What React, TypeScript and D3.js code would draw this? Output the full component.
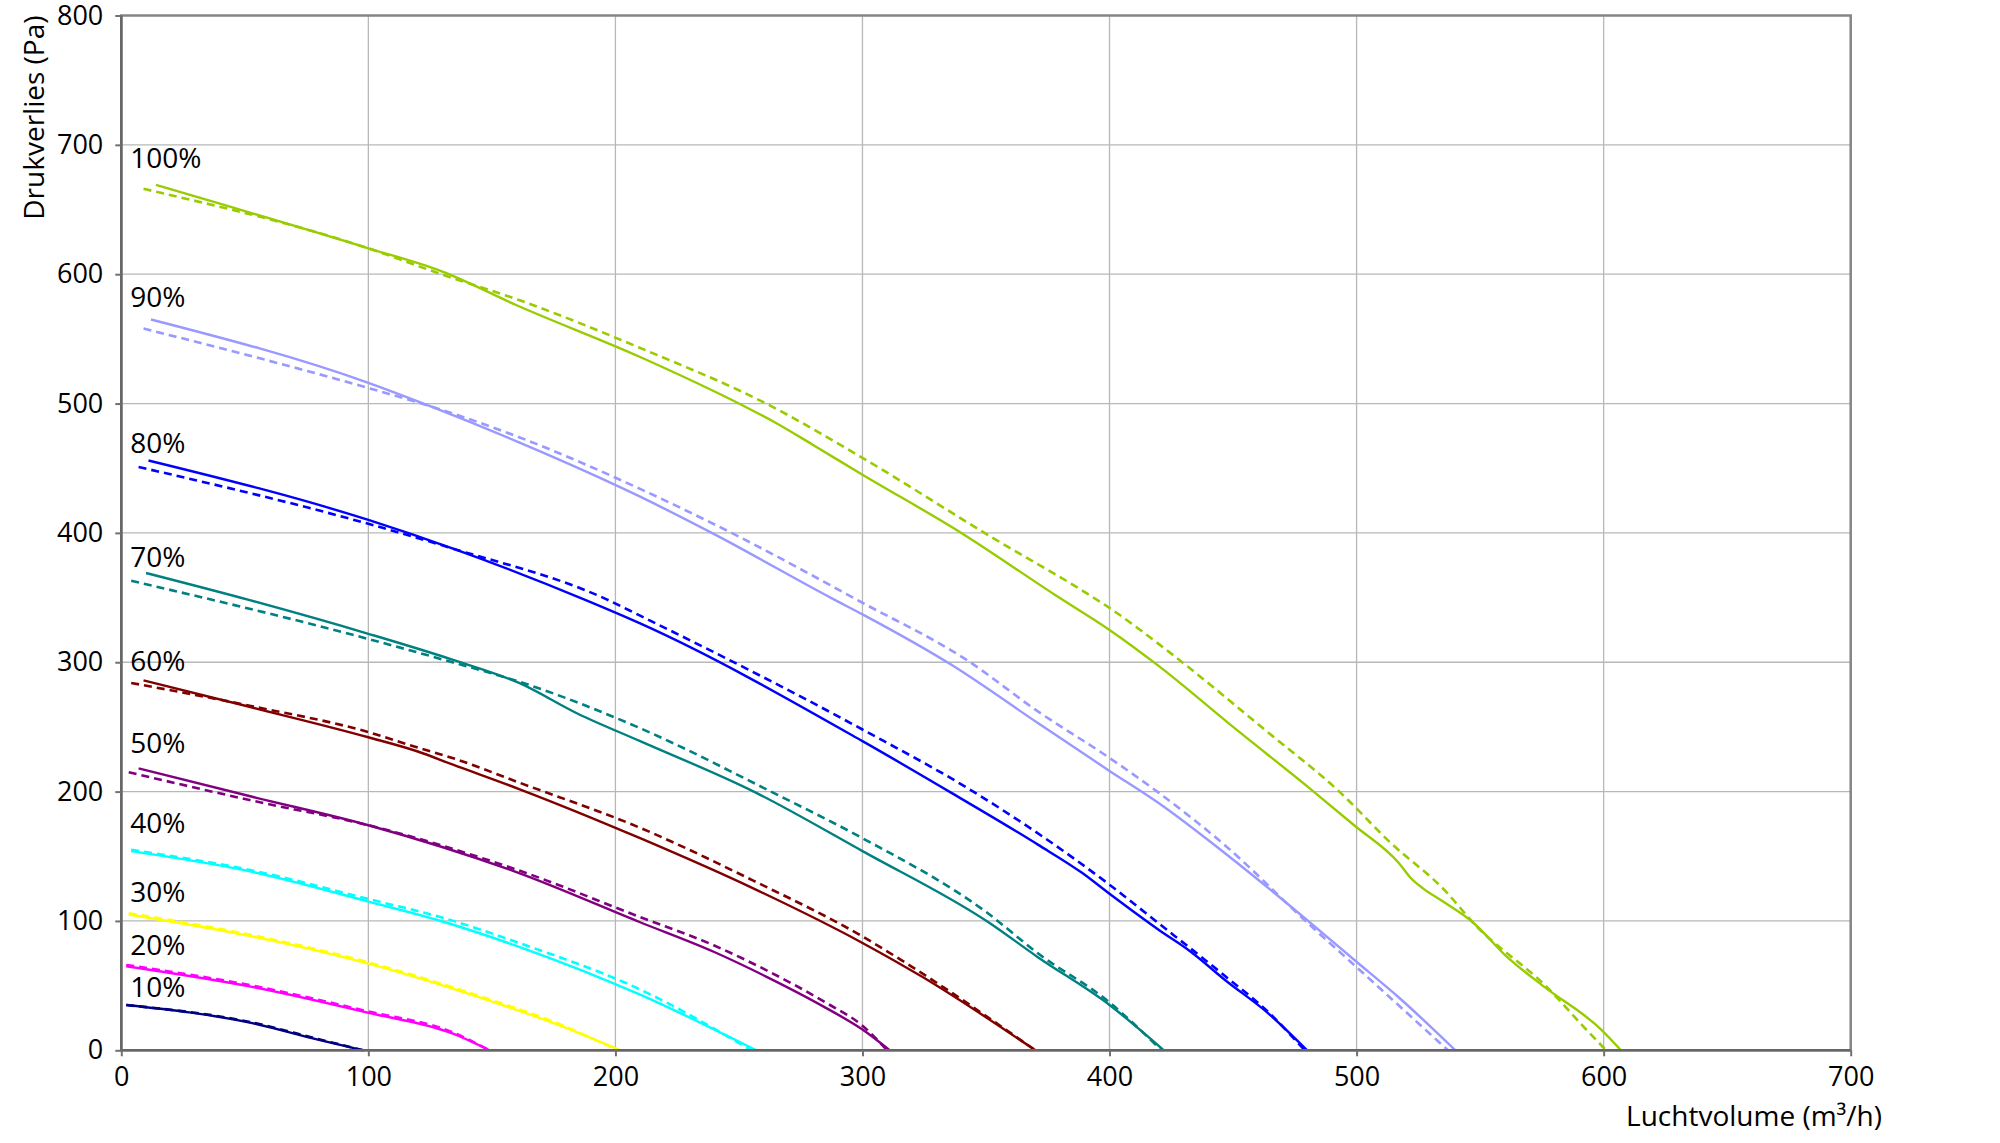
import React, { useEffect, useRef } from "react";
import * as d3 from "d3";

// fan speed settings, top curve first
const speeds = ["100%", "90%", "80%", "70%", "60%", "50%", "40%", "30%", "20%", "10%"];
const colors = ["#99cc00", "#9999ff", "#0000ff", "#008080", "#800000", "#800080", "#00ffff", "#ffff00", "#ff00ff", "#000080"];
// where the speed label sits (Pa)
const labelPa = [682, 575, 462, 374, 293, 230, 168, 115, 74, 41];

const xTicks = [0, 100, 200, 300, 400, 500, 600, 700];
const yTicks = [0, 100, 200, 300, 400, 500, 600, 700, 800];

// measured (solid) and calculated (dashed) curves: [m3/h, Pa]
const s100 = [[14, 669], [100, 620], [130, 602], [160, 576], [210, 536], [250, 500], [265, 485], [280, 468], [300, 445], [340, 400], [378, 352], [400, 325], [420, 297], [450, 250], [482, 201], [499, 174], [517, 145], [522, 133], [527, 125], [535, 115], [547, 99], [561, 72], [576, 49], [599, 16], [607, 0]];
const d100 = [[9, 666], [100, 620], [131, 599], [161, 580], [210, 543], [262, 499], [300, 458], [352, 397], [391, 353], [400, 342], [420, 314], [464, 246], [493, 200], [514, 160], [536, 123], [547, 99], [578, 47], [592, 18], [601, 0]];

const s90 = [[12, 565], [100, 516], [125, 498], [161, 470], [210, 428], [239, 400], [288, 349], [300, 337], [336, 298], [371, 253], [400, 216], [420, 191], [447, 152], [481, 99], [499, 70], [517, 41], [540, 0]];
const d90 = [[9, 558], [100, 512], [125, 498], [161, 474], [210, 434], [247, 400], [300, 346], [342, 302], [371, 262], [400, 226], [420, 199], [447, 158], [481, 97], [499, 66], [537, 0]];

const s80 = [[11, 456], [100, 410], [134, 388], [188, 348], [210, 330], [300, 239], [336, 199], [371, 159], [389, 137], [400, 121], [420, 93], [433, 76], [447, 54], [464, 29], [480, 0]];
const d80 = [[7, 451], [100, 407], [134, 388], [196, 349], [210, 336], [300, 248], [344, 201], [400, 128], [420, 98], [447, 57], [464, 30], [479, 0]];

const s70 = [[10, 369], [52, 348], [100, 322], [134, 302], [161, 284], [185, 260], [210, 239], [256, 200], [300, 154], [351, 99], [371, 72], [400, 35], [422, 0]];
const d70 = [[4, 363], [100, 318], [134, 300], [161, 285], [210, 249], [264, 199], [300, 164], [350, 107], [371, 75], [400, 37], [421, 0]];

const s60 = [[9, 286], [53, 265], [100, 242], [120, 231], [134, 221], [161, 202], [210, 164], [256, 125], [300, 83], [324, 57], [370, 0]];
const d60 = [[4, 284], [53, 266], [100, 246], [120, 234], [134, 226], [161, 207], [210, 172], [256, 131], [300, 88], [318, 67], [370, 0]];

const s50 = [[7, 218], [53, 196], [100, 174], [161, 137], [210, 99], [240, 76], [261, 57], [285, 33], [300, 16], [311, 0]];
const d50 = [[3, 215], [53, 193], [100, 174], [161, 139], [210, 103], [240, 81], [261, 62], [285, 37], [300, 19], [310, 0]];

const s40 = [[4, 154], [53, 138], [100, 115], [131, 99], [161, 80], [210, 43], [257, 0]];
const d40 = [[4, 155], [53, 139], [100, 117], [131, 102], [161, 83], [210, 47], [255, 0]];

const s30 = [[3, 105], [53, 88], [100, 67], [148, 39], [175, 21], [202, 0]];
const d30 = [[3, 106], [53, 89], [100, 68], [148, 40], [175, 22], [201, 0]];

const s20 = [[2, 65], [53, 49], [100, 29], [134, 13], [149, 0]];
const d20 = [[2, 66], [53, 50], [100, 30], [134, 14], [149, 0]];

const s10 = [[2, 35], [53, 21], [80, 8], [98, 0]];
const d10 = [[2, 35], [53, 21.5], [80, 8.5], [98, 0]];

const solids = [s100, s90, s80, s70, s60, s50, s40, s30, s20, s10];
const dashes = [d100, d90, d80, d70, d60, d50, d40, d30, d20, d10];

const W = 2000;
const H = 1143;
const FONT = "'Open Sans', 'Noto Sans', sans-serif";

export default function App() {
  const ref = useRef<SVGSVGElement>(null);

  const x = d3.scaleLinear().domain([0, 700]).range([121.3, 1850.7]);
  const y = d3.scaleLinear().domain([0, 800]).range([1050.3, 15.5]);

  useEffect(() => {
    const svg = d3.select(ref.current);
    svg.selectAll("g.axis").remove();

    const gx = svg
      .append("g")
      .attr("class", "axis")
      .attr("transform", `translate(0,${y(0)})`)
      .call(d3.axisBottom(x).tickValues(xTicks).tickSize(6).tickPadding(11));
    const gy = svg
      .append("g")
      .attr("class", "axis")
      .attr("transform", `translate(${x(0)},0)`)
      .call(d3.axisLeft(y).tickValues(yTicks).tickSize(6).tickPadding(12));

    [gx, gy].forEach((g) => {
      g.select(".domain").remove();
      g.selectAll(".tick line").attr("stroke", "#707070").attr("stroke-width", 2);
      g.selectAll(".tick text")
        .attr("fill", "#000")
        .style("font-family", FONT)
        .style("font-size", "27px");
    });
  }, []);

  const line = d3
    .line<number[]>()
    .x((d) => x(d[0]))
    .y((d) => y(d[1]))
    .curve(d3.curveMonotoneX);

  return (
    <svg
      ref={ref}
      width={W}
      height={H}
      style={{ position: "absolute", left: 0, top: 0, background: "#fff" }}
    >
      {/* grid */}
      <g stroke="#b8b8b8" strokeWidth={1.3}>
        {xTicks.slice(1, -1).map((t) => (
          <line key={"gx" + t} x1={x(t)} x2={x(t)} y1={y(800)} y2={y(0)} />
        ))}
        {yTicks.slice(1, -1).map((t) => (
          <line key={"gy" + t} x1={x(0)} x2={x(700)} y1={y(t)} y2={y(t)} />
        ))}
      </g>

      {/* curves */}
      <g fill="none">
        {dashes.map((d, i) => (
          <path key={"d" + i} d={line(d) || ""} stroke={colors[i]} strokeWidth={2.6} strokeDasharray="8,5" />
        ))}
        {solids.map((d, i) => (
          <path key={"s" + i} d={line(d) || ""} stroke={colors[i]} strokeWidth={2.4} />
        ))}
      </g>

      {/* frame */}
      <rect
        x={x(0)}
        y={y(800)}
        width={x(700) - x(0)}
        height={y(0) - y(800)}
        fill="none"
        stroke="#858585"
        strokeWidth={2.5}
      />
      <line x1={x(0)} x2={x(0)} y1={y(800)} y2={y(0)} stroke="#666" strokeWidth={2.5} />
      <line x1={x(0)} x2={x(700)} y1={y(0)} y2={y(0)} stroke="#666" strokeWidth={2.5} />

      {/* speed labels */}
      <g style={{ fontFamily: FONT, fontSize: "28px" }} fill="#000">
        {speeds.map((s, i) => (
          <text key={s} x={x(0) + 9} y={y(labelPa[i])}>
            {s}
          </text>
        ))}
      </g>

      {/* axis titles */}
      <text
        transform={`translate(44,${y(800)}) rotate(-90)`}
        textAnchor="end"
        style={{ fontFamily: FONT, fontSize: "28px" }}
        fill="#000"
      >
        Drukverlies (Pa)
      </text>
      <text
        x={1882}
        y={1126}
        textAnchor="end"
        style={{ fontFamily: FONT, fontSize: "28px" }}
        fill="#000"
      >
        Luchtvolume (m³/h)
      </text>
    </svg>
  );
}
